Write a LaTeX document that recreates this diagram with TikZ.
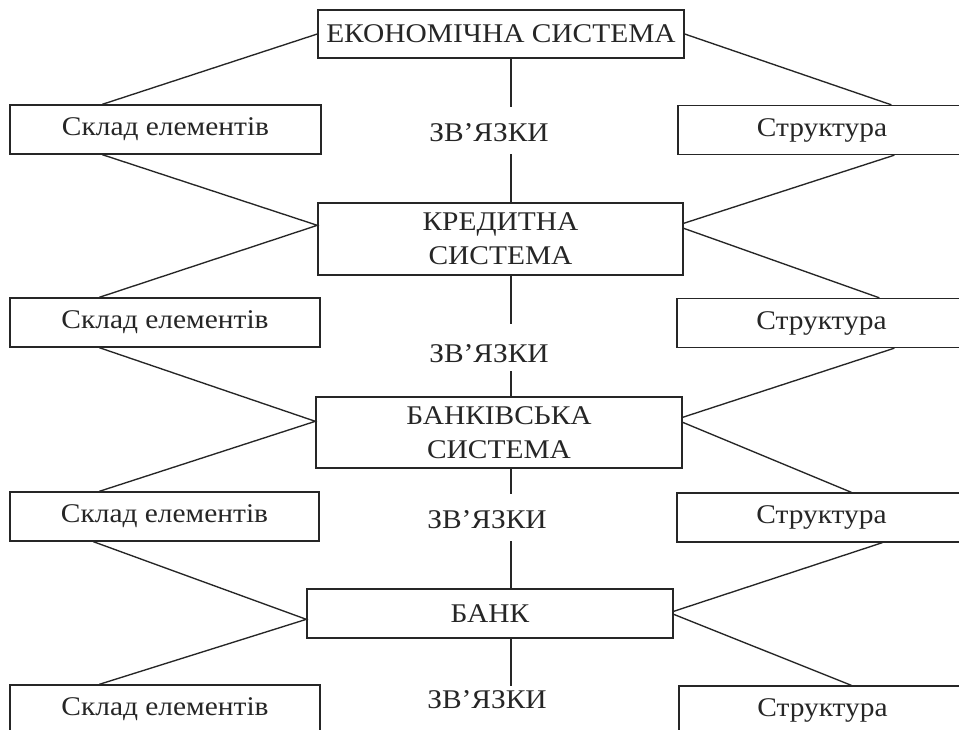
\documentclass[tikz,border=0pt]{standalone}
\usepackage{fontspec}
\setmainfont{Liberation Serif}[FakeStretch=1.09]
\usetikzlibrary{calc}
\definecolor{ink}{HTML}{262626}
\begin{document}
\begin{tikzpicture}[x=1pt,y=-1pt,line width=1.35pt,draw=ink,
  box/.style={draw=ink,rectangle,inner sep=0pt,text=ink,align=center,
    font=\fontsize{27}{34}\selectfont},
  side/.style={box,minimum height=49pt},
  lbl/.style={inner sep=0pt,text=ink,font=\fontsize{27}{34}\selectfont}]
\useasboundingbox (0,0) rectangle (959,730);
\clip (0,0) rectangle (959,730);
\fill[white] (0,0) rectangle (959,730);
\coordinate (vx) at (511,0);
% central boxes
\node[box,minimum width=366pt,minimum height=48pt] (eco) at (501,34) {ЕКОНОМІЧНА СИСТЕМА};
\node[box,minimum width=365pt,minimum height=72pt] (cred) at (500.5,239) {КРЕДИТНА\\СИСТЕМА};
\node[box,minimum width=366pt,minimum height=71pt] (bsys) at (499,432.5) {БАНКІВСЬКА\\СИСТЕМА};
\node[box,minimum width=366pt,minimum height=49pt] (bank) at (490,613.5) {БАНК};
% left boxes
\node[side,minimum width=311pt] (L1) at (165.5,129.5) {Склад елементів};
\node[side,minimum width=310pt] (L2) at (165,322.5) {Склад елементів};
\node[side,minimum width=309pt] (L3) at (164.5,516.5) {Склад елементів};
\node[side,minimum width=310pt] (L4) at (165,709.5) {Склад елементів};
% right boxes
\node[side,minimum width=288pt] (R1) at (822,130) {Структура};
\node[side,minimum width=289pt] (R2) at (821.5,323) {Структура};
\node[side,minimum width=289pt] (R3) at (821.5,517.5) {Структура};
\node[side,minimum width=287pt] (R4) at (822.5,710.5) {Структура};
% labels
\node[lbl] (z1) at (489,133) {ЗВ’ЯЗКИ};
\node[lbl] (z2) at (489,354) {ЗВ’ЯЗКИ};
\node[lbl] (z3) at (487,520) {ЗВ’ЯЗКИ};
\node[lbl] (z4) at (487,700) {ЗВ’ЯЗКИ};
% vertical links
\draw (eco.south -| vx) -- ++(0,48);
\draw (cred.north -| vx) -- ++(0,-48);
\draw (cred.south -| vx) -- ++(0,48);
\draw (bsys.north -| vx) -- ++(0,-25);
\draw (bsys.south -| vx) -- ++(0,25);
\draw (bank.north -| vx) -- ++(0,-47);
\draw (bank.south -| vx) -- ++(0,47);
% level 1
\draw (eco.west) -- ($(L1.north west)+(93,0)$);
\draw (eco.east) -- ($(R1.north west)+(214,0)$);
% level 2
\coordinate (cl) at ($(cred.north west)+(0,23)$);
\coordinate (cr1) at ($(cred.north east)+(0,21)$);
\coordinate (cr2) at ($(cred.north east)+(0,26)$);
\draw ($(L1.south west)+(93,0)$) -- (cl) -- ($(L2.north west)+(90,0)$);
\draw ($(R1.south west)+(217,0)$) -- (cr1);
\draw (cr2) -- ($(R2.north west)+(203,0)$);
% level 3
\coordinate (bl) at ($(bsys.north west)+(0,25)$);
\coordinate (br1) at ($(bsys.north east)+(0,21)$);
\coordinate (br2) at ($(bsys.north east)+(0,26)$);
\draw ($(L2.south west)+(90,0)$) -- (bl) -- ($(L3.north west)+(90,0)$);
\draw ($(R2.south west)+(218,0)$) -- (br1);
\draw (br2) -- ($(R3.north west)+(175,0)$);
% level 4
\coordinate (kl) at ($(bank.north west)+(0,31)$);
\coordinate (kr1) at ($(bank.north east)+(0,23)$);
\coordinate (kr2) at ($(bank.north east)+(0,26)$);
\draw ($(L3.south west)+(84,0)$) -- (kl) -- ($(L4.north west)+(90,0)$);
\draw ($(R3.south west)+(206,0)$) -- (kr1);
\draw (kr2) -- ($(R4.north west)+(173,0)$);
\end{tikzpicture}
\end{document}
